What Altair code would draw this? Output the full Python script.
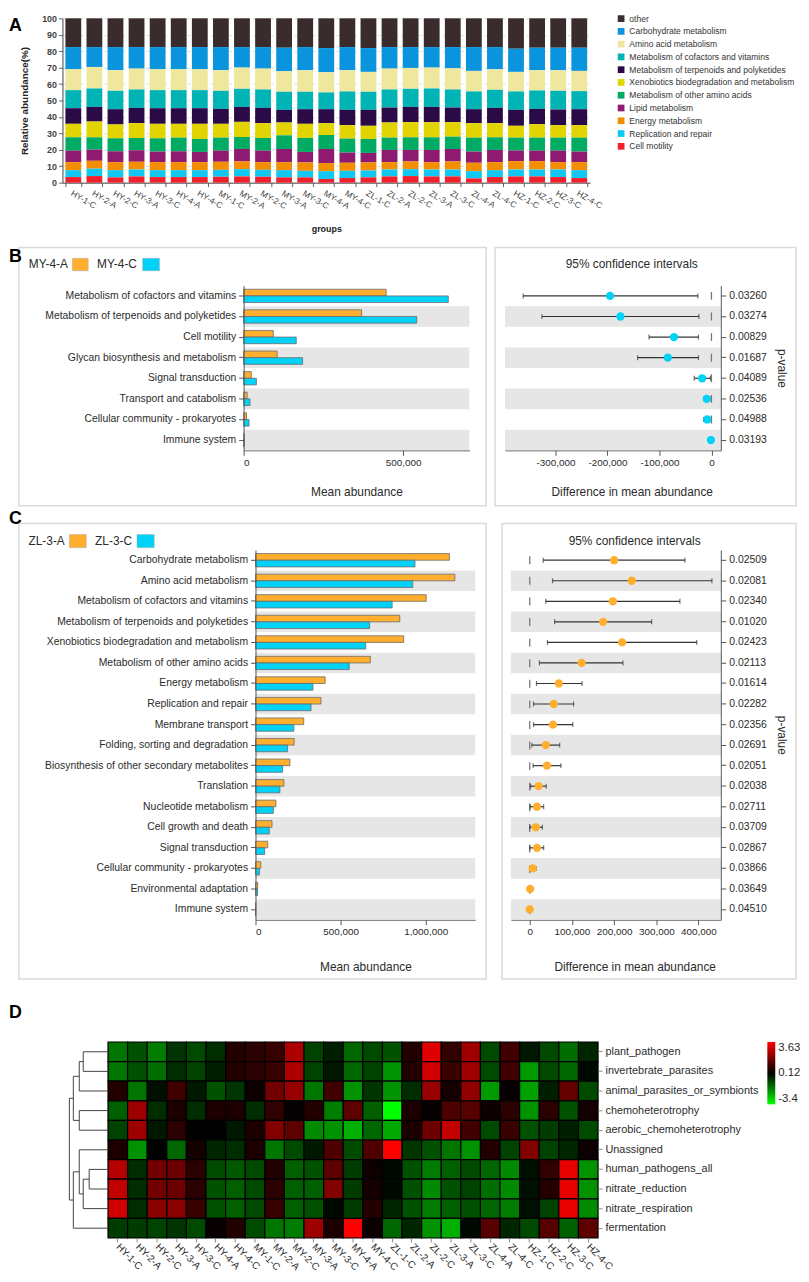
import altair as alt
import pandas as pd

FONT = "Liberation Sans"
TXT = "#2b2b2b"
AXC = "#555555"
BOX = "#dadada"
ORANGE = "#ffae2e"
CYAN = "#00d2f8"

# ---------------- Panel A data ----------------
samples = ["HY-1-C", "HY-2-A", "HY-2-C", "HY-3-A", "HY-3-C", "HY-4-A", "HY-4-C",
           "MY-1-C", "MY-2-A", "MY-2-C", "MY-3-A", "MY-3-C", "MY-4-A", "MY-4-C",
           "ZL-1-C", "ZL-2-A", "ZL-2-C", "ZL-3-A", "ZL-3-C", "ZL-4-A", "ZL-4-C",
           "HZ-1-C", "HZ-2-C", "HZ-3-C", "HZ-4-C"]
pathways_a = ["other", "Carbohydrate metabolism", "Amino acid metabolism",
              "Metabolism of cofactors and vitamins", "Metabolism of terpenoids and polyketides",
              "Xenobiotics biodegradation and metabolism", "Metabolism of other amino acids",
              "Lipid metabolism", "Energy metabolism", "Replication and repair", "Cell motility"]
colors_a = ["#3a2c2c", "#0a94de", "#efe79d", "#00b3b5", "#2b0a48", "#e2d400",
            "#00ab63", "#8e1b70", "#f28e00", "#12c8f2", "#f0202c"]
other = [17.5, 17.5, 17.5, 17.5, 17.5, 17.5, 17.5, 17.5, 17.5, 17.5, 17.9, 17.5, 18.1,
         17.5, 18.1, 17.5, 17.5, 17.5, 17.5, 17.5, 17.5, 18.5, 17.9, 17.9, 17.9]
carbohydrate = [13.5, 12.1, 14.1, 13.1, 13.5, 13.5, 13.5, 14.1, 12.5, 13.1, 14.3, 14.1, 14.7,
                14.1, 14.5, 13.1, 12.7, 12.5, 12.9, 14.5, 13.5, 14.1, 13.7, 13.7, 14.1]
amino_acid = [12.7, 13.1, 12.5, 12.7, 12.7, 12.7, 12.7, 12.5, 12.9, 12.7, 12.5, 13.1, 12.3,
              12.9, 12.1, 12.7, 12.7, 12.7, 12.9, 12.5, 12.5, 11.9, 12.3, 12.5, 12.3]
cofactors = [11.0, 11.2, 11.2, 11.2, 11.0, 11.0, 11.0, 11.0, 11.0, 11.2, 11.0, 10.6, 10.2,
             11.2, 11.0, 11.0, 11.0, 11.2, 11.0, 10.8, 11.0, 11.2, 11.2, 11.4, 11.0]
terpenoids = [9.5, 8.9, 9.3, 9.3, 9.5, 9.5, 9.5, 9.1, 9.1, 9.3, 7.7, 8.9, 8.5,
              9.3, 9.7, 9.1, 9.3, 9.3, 8.9, 8.5, 9.3, 9.7, 9.3, 9.5, 9.7]
xenobiotics = [8.2, 9.6, 8.4, 9.0, 8.8, 8.4, 9.2, 8.4, 9.2, 9.0, 7.8, 8.6, 7.2,
               8.2, 8.0, 9.2, 9.2, 9.2, 8.8, 8.8, 8.6, 7.2, 8.2, 7.6, 7.6]
other_amino = [8.1, 7.5, 7.9, 7.5, 8.1, 8.3, 7.9, 7.9, 7.3, 7.7, 8.3, 8.5, 8.5,
               8.5, 8.5, 7.5, 7.7, 7.7, 7.5, 8.5, 7.7, 7.9, 7.9, 7.9, 8.5]
lipid = [7.0, 6.8, 6.6, 7.0, 6.4, 6.6, 6.2, 6.8, 7.6, 7.0, 8.0, 6.4, 8.6,
         6.2, 5.8, 7.4, 7.0, 7.4, 7.6, 6.8, 7.4, 6.4, 6.4, 7.0, 6.4]
energy = [4.9, 4.8, 4.9, 4.7, 4.9, 4.9, 4.9, 4.9, 4.7, 4.7, 4.9, 5.1, 4.9,
          4.9, 4.9, 4.5, 4.7, 4.5, 4.9, 5.1, 4.9, 5.1, 5.1, 4.5, 4.9]
replication = [4.2, 4.5, 4.4, 4.2, 4.2, 4.2, 4.2, 4.2, 4.4, 4.2, 4.4, 4.0, 4.8,
               4.4, 4.2, 4.2, 4.2, 4.2, 4.2, 4.4, 4.2, 4.2, 4.2, 4.6, 4.8]
cell_motility = [3.4, 4.0, 3.2, 3.8, 3.4, 3.4, 3.4, 3.6, 3.8, 3.6, 3.2, 3.2, 2.2,
                 2.8, 3.2, 3.8, 4.0, 3.8, 3.8, 2.6, 3.4, 3.8, 3.8, 3.4, 2.8]
series_a = [other, carbohydrate, amino_acid, cofactors, terpenoids, xenobiotics,
            other_amino, lipid, energy, replication, cell_motility]

# ---------------- Panel B data ----------------
cats_b = ["Metabolism of cofactors and vitamins", "Metabolism of terpenoids and polyketides",
          "Cell motility", "Glycan biosynthesis and metabolism", "Signal transduction",
          "Transport and catabolism", "Cellular community - prokaryotes", "Immune system"]
b_mean_a = [447000, 370000, 93000, 105000, 24000, 11000, 9000, 1000]
b_mean_c = [642000, 543000, 165000, 185000, 40000, 20000, 17000, 2000]
b_diff = [-195000, -175000, -72000, -84000, -18000, -9000, -8000, -1000]
b_low = [-362000, -326000, -120000, -142000, -33000, -15000, -15000, -2000]
b_high = [-26000, -24000, -25000, -25000, -2000, -3000, -3000, 0]
b_p = ["0.03260", "0.03274", "0.00829", "0.01687", "0.04089", "0.02536", "0.04988", "0.03193"]

# ---------------- Panel C data ----------------
cats_c = ["Carbohydrate metabolism", "Amino acid metabolism", "Metabolism of cofactors and vitamins",
          "Metabolism of terpenoids and polyketides", "Xenobiotics biodegradation and metabolism",
          "Metabolism of other amino acids", "Energy metabolism", "Replication and repair",
          "Membrane transport", "Folding, sorting and degradation",
          "Biosynthesis of other secondary metabolites", "Translation", "Nucleotide metabolism",
          "Cell growth and death", "Signal transduction", "Cellular community - prokaryotes",
          "Environmental adaptation", "Immune system"]
c_mean_a = [1138000, 1170000, 1002000, 847000, 870000, 674000, 409000, 384000, 283000,
            227000, 202000, 167000, 120000, 97000, 72000, 31000, 13000, 2000]
c_mean_c = [936000, 923000, 802000, 670000, 647000, 550000, 337000, 326000, 225000,
            188000, 159000, 143000, 105000, 81000, 54000, 23000, 12000, 1000]
c_diff = [200000, 242000, 197000, 174000, 219000, 123000, 69000, 57000, 55000,
          38000, 41000, 21000, 17000, 14000, 17000, 7000, 1000, 0]
c_low = [32000, 54000, 38000, 59000, 42000, 23000, 16000, 9000, 9000,
         5000, 8000, 2000, 1000, 0, 0, 0, -2000, -1000]
c_high = [368000, 432000, 356000, 289000, 396000, 221000, 124000, 104000, 102000,
          71000, 74000, 39000, 33000, 30000, 33000, 15000, 5000, 1000]
c_p = ["0.02509", "0.02081", "0.02340", "0.01020", "0.02423", "0.02113", "0.01614", "0.02282",
       "0.02356", "0.02691", "0.02051", "0.02038", "0.02711", "0.03709", "0.02867", "0.03866",
       "0.03649", "0.04510"]

# ---------------- Panel D data ----------------
hm_rows = ["plant_pathogen", "invertebrate_parasites", "animal_parasites_or_symbionts",
           "chemoheterotrophy", "aerobic_chemoheterotrophy", "Unassigned",
           "human_pathogens_all", "nitrate_reduction", "nitrate_respiration", "fermentation"]
hm_plant = [-1.5, -1.0, -1.6, -0.6, -0.9, -0.5, 0.6, 0.7, 0.9, 2.5, -0.8, -0.3, -1.3,
            -0.9, -1.0, 0.6, 3.2, 0.8, 2.3, -0.9, 1.0, -0.2, -0.9, -1.4, -0.4]
hm_invert = [-1.5, -1.0, -1.4, -0.5, -0.8, -0.3, 0.6, 0.7, 0.9, 2.5, -0.8, -0.2, -1.3,
             -0.8, -1.9, 0.6, 3.0, 0.9, 2.3, -0.9, 1.0, -2.0, -0.9, -1.3, 0.0]
hm_animal = [0.6, -1.5, -0.1, 1.0, -0.2, -1.0, -0.6, 0.3, 1.7, 2.2, -1.5, 1.0, -1.9,
             -0.6, -1.9, -0.5, 2.2, 0.4, 2.1, -2.0, 0.2, -2.1, -0.3, 1.5, -0.9]
hm_chemo = [-1.2, 2.3, -0.5, 0.5, -0.5, 0.5, 0.5, -0.5, 0.8, 0.2, 0.6, -1.6, 1.4,
            -1.2, -3.4, 0.5, 0.2, 1.2, 1.3, 0.3, 0.7, -1.9, 0.7, -1.0, 0.4]
hm_aerobic = [-0.8, 2.3, -0.2, 0.7, 0.1, 0.1, -0.2, 0.5, 1.9, 1.4, -1.8, -1.9, -2.3,
              -1.3, -2.2, 0.5, 1.6, 2.8, 1.0, -0.9, 0.9, -1.0, -0.7, -0.3, -0.9]
hm_unassigned = [0.5, -1.9, 0.1, -1.3, 0.4, -0.4, -0.5, 0.5, -1.5, -0.9, -0.2, 1.2, -0.9,
                 1.2, 3.6, -0.6, -1.0, -1.5, -1.9, 0.6, -0.8, 1.9, -0.8, -0.4, 0.3]
hm_human = [2.6, -0.5, 1.7, 1.6, 0.7, -0.9, -1.1, -0.9, 0.6, -1.2, -1.0, 1.4, -0.7,
            0.3, 0.0, -1.0, -1.6, -1.2, -0.9, -1.3, -1.8, -0.1, 0.8, 3.3, -1.9]
hm_nred = [2.8, -0.5, 1.7, 1.6, 0.7, -1.0, -1.2, -0.9, 0.7, -1.2, -1.2, 1.9, -0.7,
           0.4, 0.0, -1.0, -1.8, -1.0, -0.8, -1.4, -1.8, -0.1, 0.6, 3.3, -1.9]
hm_nresp = [3.0, -0.5, 2.0, 2.0, 0.9, -1.0, -1.2, -0.9, 0.9, -1.2, -1.0, 0.0, -0.7,
            0.6, -0.4, -1.0, -1.6, -1.2, -1.0, -1.3, -1.6, -0.1, -0.8, 3.3, -1.8]
hm_ferment = [-0.7, -0.7, -0.8, -0.6, -0.9, 0.2, 0.6, -0.9, -1.5, -1.6, 2.3, 0.5, 3.6,
              0.3, -1.3, -0.4, -1.9, -2.3, 0.0, 1.3, -0.4, -0.9, 1.3, -1.2, 1.4]
hm_vals = [hm_plant, hm_invert, hm_animal, hm_chemo, hm_aerobic, hm_unassigned,
           hm_human, hm_nred, hm_nresp, hm_ferment]
# row clustering: (child a, child b, merge height); ids >= 10 are earlier merges
merges = [(0, 1, 2.5), (10, 2, 2.9), (3, 4, 2.9), (11, 12, 3.5),
          (6, 7, 1.9), (14, 8, 2.5), (5, 15, 2.9), (16, 9, 3.5), (13, 17, 3.9)]

NEG_FMT = "datum.value < 0 ? '-' + format(-datum.value, ',') : format(datum.value, ',')"


def box_layer(x1, x2, y1, y2):
    return alt.Chart(pd.DataFrame({"k": [0]})).mark_rect(
        filled=False, stroke=BOX, strokeWidth=1.5).encode(
        x=alt.value(x1), x2=alt.value(x2), y=alt.value(y1), y2=alt.value(y2))


def text_layer(t, x, y, size, weight="normal", align="left", baseline="middle", color=TXT):
    return alt.Chart(pd.DataFrame({"t": [t]})).mark_text(
        align=align, baseline=baseline, fontSize=size, fontWeight=weight, color=color).encode(
        x=alt.value(x), y=alt.value(y), text="t:N")


def swatch_layer(x1, x2, y1, y2, color):
    return alt.Chart(pd.DataFrame({"k": [0]})).mark_rect(
        fill=color, stroke="#aaaaaa", strokeWidth=0.5).encode(
        x=alt.value(x1), x2=alt.value(x2), y=alt.value(y1), y2=alt.value(y2))


def spacer():
    # tiny invisible view that pins every row's left edge to the same x
    return alt.Chart(pd.DataFrame({"k": [0]})).mark_rect(opacity=0).encode(
        x=alt.value(0), x2=alt.value(1), y=alt.value(0), y2=alt.value(1)).properties(width=1, height=1)


# ---------------- Panel A chart ----------------
rows_a = []
for k, (name, vals) in enumerate(zip(pathways_a, series_a)):
    for s, v in zip(samples, vals):
        rows_a.append({"sample": s, "pathway": name, "value": v, "stack": 10 - k})
df_a = pd.DataFrame(rows_a)

W_A, H_A = 533, 166
bars_a = alt.Chart(df_a).mark_bar().encode(
    x=alt.X("sample:N", scale=alt.Scale(domain=samples, paddingInner=0.25, paddingOuter=0.14),
            axis=alt.Axis(title="groups", titleFontSize=9, titleFontWeight="bold", titleColor="#222",
                          titlePadding=15, labelAngle=30, labelAlign="left", labelBaseline="top",
                          labelFontSize=8.5, labelColor="#444", tickBand="extent", tickSize=4,
                          tickColor="#666", domainColor="#444", labelPadding=2)),
    y=alt.Y("value:Q", stack="zero", scale=alt.Scale(domain=[0, 100], nice=False),
            axis=alt.Axis(values=list(range(0, 101, 10)), title="Relative abundance(%)",
                          titleFontSize=10, titleFontWeight="bold", titleColor="#222", titlePadding=12,
                          labelFontSize=9, labelFontWeight="bold", labelColor="#444", tickSize=4,
                          tickColor="#666", domainColor="#444", labelPadding=2, grid=True,
                          gridDash=[3, 3], gridColor="#dddddd")),
    color=alt.Color("pathway:N", scale=alt.Scale(domain=pathways_a, range=colors_a),
                    legend=alt.Legend(title=None, orient="none", legendX=615, legendY=-4, padding=0,
                                      symbolType="square", symbolSize=46, symbolStrokeWidth=0,
                                      labelFontSize=8.6, labelColor="#333", labelLimit=300,
                                      rowPadding=3.9, labelOffset=4)),
    order=alt.Order("stack:Q", sort="ascending"),
)
chart_a = alt.layer(bars_a, text_layer("A", -54, -1, 18, "bold", baseline="top", color="black")
                    ).properties(width=W_A, height=H_A)


# ---------------- B / C helpers ----------------
def mean_panel(cats, va, vc, names, w, h, xmax, xticks, letter, letter_x, letter_y, box, leg, title_pad):
    n = len(cats)
    long = pd.DataFrame({"cat": cats + cats, "series": ["A"] * n + ["C"] * n, "value": va + vc})
    bands = pd.DataFrame({"cat": cats[1::2]})
    yscale = alt.Scale(domain=cats, paddingInner=0, paddingOuter=0)
    yaxis = alt.Axis(title=None, labelFontSize=10.5, labelColor=TXT, labelLimit=320, tickSize=5,
                     tickColor=AXC, domainColor=AXC, labelPadding=3)
    xscale = alt.Scale(domain=[0, xmax], nice=False)
    xaxis = alt.Axis(values=xticks, labelExpr=NEG_FMT, title="Mean abundance", titleFontSize=12,
                     titleFontWeight="normal", titleColor=TXT, titlePadding=title_pad, labelFontSize=10,
                     labelColor=TXT, tickSize=5, tickColor=AXC, domainColor=AXC, grid=False)
    band_l = alt.Chart(bands).mark_rect(color="#e6e6e6").encode(
        y=alt.Y("cat:N", scale=yscale, axis=yaxis), x=alt.value(0), x2=alt.value(w))
    bar_l = alt.Chart(long).mark_bar(stroke="#6b6b6b", strokeWidth=0.8).encode(
        y=alt.Y("cat:N", scale=yscale, axis=yaxis),
        yOffset=alt.YOffset("series:N", scale=alt.Scale(domain=["A", "C"], paddingInner=0,
                                                         paddingOuter=0.55)),
        x=alt.X("value:Q", scale=xscale, axis=xaxis),
        color=alt.Color("series:N", scale=alt.Scale(domain=["A", "C"], range=[ORANGE, CYAN]),
                        legend=None),
    )
    t1x, s1, t2x, s2, ty, sy = leg
    layers = [box_layer(*box), band_l, bar_l,
              text_layer(names[0], t1x, ty, 12), swatch_layer(s1[0], s1[1], sy[0], sy[1], ORANGE),
              text_layer(names[1], t2x, ty, 12), swatch_layer(s2[0], s2[1], sy[0], sy[1], CYAN),
              text_layer(letter, letter_x, letter_y, 18, "bold", baseline="top", color="black")]
    return alt.layer(*layers).properties(width=w, height=h)


def ci_panel(pvals, diff, low, high, w, h, domain, ticks, color, title_x, title_y, box, title_pad):
    df = pd.DataFrame({"p": pvals, "diff": diff, "low": low, "high": high})
    ends = pd.DataFrame({"p": pvals + pvals, "end": low + high})
    bands = pd.DataFrame({"p": pvals[1::2]})
    yscale = alt.Scale(domain=pvals, paddingInner=0, paddingOuter=0)
    yaxis = alt.Axis(orient="right", title="p-value", titleFontSize=12, titleFontWeight="normal",
                     titleColor=TXT, titlePadding=8, labelFontSize=10.5, labelColor=TXT, tickSize=5,
                     tickColor=AXC, domainColor=AXC, labelPadding=3)
    xscale = alt.Scale(domain=domain, nice=False, zero=False)
    xaxis = alt.Axis(values=ticks, labelExpr=NEG_FMT, title="Difference in mean abundance",
                     titleFontSize=12, titleFontWeight="normal", titleColor=TXT, titleX=title_x,
                     titlePadding=title_pad, labelFontSize=10, labelColor=TXT, tickSize=5,
                     tickColor=AXC, domainColor=AXC, grid=False)
    band_l = alt.Chart(bands).mark_rect(color="#e6e6e6").encode(
        y=alt.Y("p:N", scale=yscale, axis=yaxis), x=alt.value(0), x2=alt.value(w))
    zero_l = alt.Chart(pd.DataFrame({"zero": [0]})).mark_rule(
        color="#777777", strokeWidth=1.3, strokeDash=[8, 12.8], strokeDashOffset=14.4).encode(
        x=alt.X("zero:Q", scale=xscale, axis=xaxis))
    err_l = alt.Chart(df).mark_rule(color="#333333", strokeWidth=1.2).encode(
        y=alt.Y("p:N", scale=yscale, axis=yaxis),
        x=alt.X("low:Q", scale=xscale, axis=xaxis), x2="high:Q")
    cap_l = alt.Chart(ends).mark_tick(color="#333333", thickness=1.2, size=5).encode(
        y=alt.Y("p:N", scale=yscale, axis=yaxis), x=alt.X("end:Q", scale=xscale, axis=xaxis))
    pt_l = alt.Chart(df).mark_circle(size=70, opacity=1, color=color).encode(
        y=alt.Y("p:N", scale=yscale, axis=yaxis), x=alt.X("diff:Q", scale=xscale, axis=xaxis))
    layers = [box_layer(*box), band_l, zero_l, err_l, cap_l, pt_l,
              text_layer("95% confidence intervals", title_x, title_y, 12, align="center")]
    return alt.layer(*layers).properties(width=w, height=h)


# ---------------- Panel B ----------------
WB_L, WB_R, HB = 228, 218, 166.4
b_left = mean_panel(cats_b, b_mean_a, b_mean_c, ["MY-4-A", "MY-4-C"], WB_L, HB, 708000,
                    [0, 500000], "B", -237, -38,
                    (-227, WB_L + 17, -38.6, 222.4),
                    (-217, (-173, -157), -148, (-102, -85), -21.6, (-27.6, -15.0)), 20)
b_right = ci_panel(b_p, b_diff, b_low, b_high, WB_R, HB, [-397000, 18000],
                   [-300000, -200000, -100000, 0], CYAN, 128, -22,
                   (-10, WB_R + 76, -38.6, 222.4), 20)
row_b = alt.hconcat(spacer(), alt.hconcat(b_left, b_right, spacing=7), spacing=0)

# ---------------- Panel C ----------------
WC_L, WC_R, HC = 222, 212, 373.5
c_left = mean_panel(cats_c, c_mean_a, c_mean_c, ["ZL-3-A", "ZL-3-C"], WC_L, HC, 1290000,
                    [0, 500000, 1000000], "C", -249, -40,
                    (-239, WC_L + 11, -26.6, 433.4),
                    (-229.3, (-188, -171), -162, (-119.7, -102.3), -9, (-15.6, -2.3)), 25)
c_right = ci_panel(c_p, c_diff, c_low, c_high, WC_R, HC, [-44600, 453000],
                   [0, 100000, 200000, 300000, 400000], ORANGE, 125, -9,
                   (-9, WC_R + 76, -26.6, 433.4), 25)
row_c = alt.hconcat(spacer(), alt.hconcat(c_left, c_right, spacing=14), spacing=0)

# ---------------- Panel D ----------------
W_H, H_H = 495, 198
df_h = pd.DataFrame([{"row": r, "sample": s, "v": v}
                     for r, vals in zip(hm_rows, hm_vals) for s, v in zip(samples, vals)])
heat = alt.Chart(df_h).mark_rect(stroke="black", strokeWidth=1.2).encode(
    x=alt.X("sample:N", scale=alt.Scale(domain=samples, paddingInner=0, paddingOuter=0),
            axis=alt.Axis(title=None, labelAngle=45, labelAlign="left", labelBaseline="middle",
                          labelFontSize=10, labelColor=TXT, tickSize=4, tickColor="#888",
                          domain=False, labelPadding=3)),
    y=alt.Y("row:N", scale=alt.Scale(domain=hm_rows, paddingInner=0, paddingOuter=0),
            axis=alt.Axis(orient="right", title=None, labelFontSize=11, labelColor=TXT, tickSize=4,
                          tickColor="#888", domain=False, labelPadding=3)),
    color=alt.Color("v:Q", scale=alt.Scale(domain=[-3.4, 0.12, 3.63],
                                           range=["#00ff00", "#000000", "#ff0000"], interpolate="rgb"),
                    legend=alt.Legend(title=None, orient="none", legendX=767, legendY=0, padding=0,
                                      direction="vertical", gradientLength=63, gradientThickness=8,
                                      values=[-3.4, 0.12, 3.63], labelFontSize=11.5, labelColor=TXT,
                                      labelOffset=3, gradientStrokeWidth=0,
                                      labelExpr="datum.value < 0 ? '-' + format(-datum.value, '.2~f') : format(datum.value, '.2~f')")),
)

leaf_y = {i: i + 0.5 for i in range(len(hm_rows))}
node_h = {i: 0.0 for i in range(len(hm_rows))}
segs = []
for k, (a, b, hgt) in enumerate(merges):
    nid = len(hm_rows) + k
    ya, yb = leaf_y[a], leaf_y[b]
    segs.append({"x": hgt, "x2": hgt, "y": ya, "y2": yb})
    segs.append({"x": node_h[a], "x2": hgt, "y": ya, "y2": ya})
    segs.append({"x": node_h[b], "x2": hgt, "y": yb, "y2": yb})
    leaf_y[nid] = (ya + yb) / 2
    node_h[nid] = hgt
dendro = alt.Chart(pd.DataFrame(segs)).mark_rule(color="#444444", strokeWidth=1).encode(
    x=alt.X("x:Q", scale=alt.Scale(domain=[4.0, 0], range=[-40, 0]), axis=None),
    x2="x2:Q",
    y=alt.Y("y:Q", scale=alt.Scale(domain=[0, 10], range=[0, H_H]), axis=None),
    y2="y2:Q",
)
chart_d = alt.layer(heat, dendro, text_layer("D", -100, -38, 18, "bold", baseline="top", color="black")
                    ).resolve_scale(x="independent", y="independent").properties(width=W_H, height=H_H)
row_d = alt.hconcat(spacer(), chart_d, spacing=0)
row_a = alt.hconcat(spacer(), chart_a, spacing=0)

# ---------------- assemble ----------------
bc = alt.vconcat(row_b, row_c, spacing=3)
abc = alt.vconcat(row_a, bc, spacing=12).resolve_scale(color="independent")
chart = alt.vconcat(abc, row_d, spacing=24).resolve_scale(
    color="independent").properties(padding=0).configure(font=FONT).configure_view(strokeWidth=0)

chart.save("out.html", embed_options={"renderer": "svg", "actions": False})
